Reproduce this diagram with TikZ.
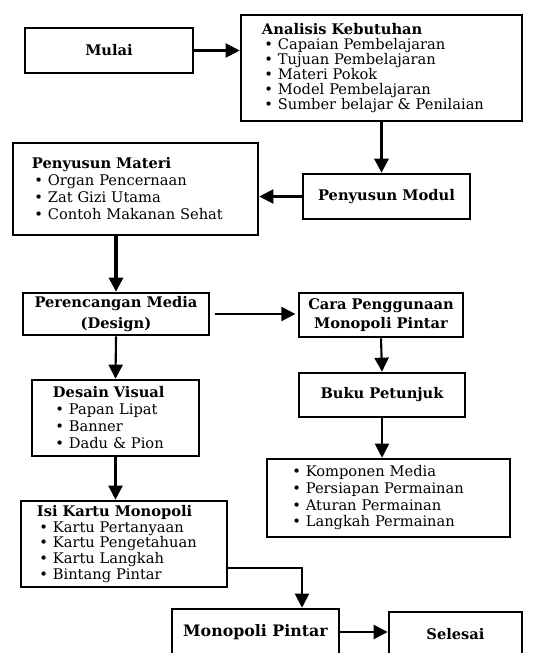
\documentclass[tikz,border=0pt]{standalone}
\usepackage{fontspec}
\setmainfont{DejaVu Serif}
\usetikzlibrary{arrows.meta}

\tikzset{
  kotak/.style={draw, line width=2.2pt, inner sep=0pt},
  judul/.style={kotak, font=\bfseries\fontsize{12.5}{15}\selectfont, align=center},
  daftar/.style={kotak, align=left, font=\fontsize{12.5}{#1}\selectfont},
  daftar/.default=12.8pt,
  panah/.style={-{Triangle[length=12pt,width=12pt]}, line width=1.8pt},
  panahtebal/.style={panah, line width=2.6pt},
}
\newcommand{\butir}{\hspace{2pt}\textbullet\ }

\begin{document}
\begin{tikzpicture}[x=0.03cm, y=-0.03cm, font=\fontsize{12.5}{12.8}\selectfont]
  \useasboundingbox (0,0) rectangle (558,653);

  % Start and needs analysis
  \node[judul, minimum width=5.04cm, minimum height=1.35cm] (mulai) at (109,50.5) {Mulai};
  \node[daftar, minimum width=8.43cm, minimum height=3.18cm, text width=7.17cm] (analisis) at (381.5,68)
    {\textbf{Analisis Kebutuhan}\\
     \butir Capaian Pembelajaran\\
     \butir Tujuan Pembelajaran\\
     \butir Materi Pokok\\
     \butir Model Pembelajaran\\
     \butir Sumber belajar \& Penilaian};

  % Module and material
  \node[judul, minimum width=5.01cm, minimum height=1.35cm] (modul) at (386.5,196.5) {Penyusun Modul};
  \node[daftar=14.5pt, minimum width=7.35cm, minimum height=2.76cm, text width=6.21cm] (materi) at (135.5,189)
    {\textbf{Penyusun Materi}\\
     \butir Organ Pencernaan\\
     \butir Zat Gizi Utama\\
     \butir Contoh Makanan Sehat};

  % Media design
  \node[judul, minimum width=5.58cm, minimum height=1.26cm] (rancang) at (116,314) {Perencangan Media\\[3pt](Design)};
  \node[judul, minimum width=4.92cm, minimum height=1.32cm] (cara) at (381,315) {Cara Penggunaan\\[1pt]Monopoli Pintar};
  \node[daftar=14.5pt, minimum width=5.01cm, minimum height=2.28cm, text width=3.75cm] (desain) at (115.5,418)
    {\textbf{Desain Visual}\\
     \butir Papan Lipat\\
     \butir Banner\\
     \butir Dadu \& Pion};
  \node[judul, minimum width=4.98cm, minimum height=1.32cm] (buku) at (382,395) {Buku Petunjuk};
  \node[daftar=14.2pt, minimum width=7.29cm, minimum height=2.34cm, text width=5.91cm] (komponen) at (388.5,498)
    {\butir Komponen Media\\
     \butir Persiapan Permainan\\
     \butir Aturan Permainan\\
     \butir Langkah Permainan};
  \node[daftar=13.4pt, minimum width=6.18cm, minimum height=2.58cm, text width=5.22cm] (isi) at (124,544)
    {\textbf{Isi Kartu Monopoli}\\
     \butir Kartu Pertanyaan\\
     \butir Kartu Pengetahuan\\
     \butir Kartu Langkah\\
     \butir Bintang Pintar};

  % Product and finish
  \node[judul, minimum width=5.01cm, minimum height=1.38cm, font=\bfseries\fontsize{13.5}{15}\selectfont] (monopoli) at (255.5,632) {Monopoli Pintar};
  \node[judul, minimum width=3.99cm, minimum height=1.32cm] (selesai) at (455.5,634) {Selesai};
  \coordinate (belok) at (302,568);

  % Arrows
  \draw[panah] (mulai.east) -- (analisis.west |- mulai.east);
  \draw[panahtebal] (analisis.south) -- (analisis.south |- modul.north);
  \draw[panah] (modul.west) -- (materi.east |- modul.west);
  \draw[panahtebal] (rancang.north |- materi.south) -- (rancang.north);
  \draw[panah, shorten <=4pt, shorten >=2pt] (rancang.east) -- (cara.west |- rancang.east);
  \draw[panah] (rancang.south) -- (desain.north);
  \draw[panah] (cara.south) -- (buku.north);
  \draw[panah] (buku.south) -- (buku.south |- komponen.north);
  \draw[panah] (desain.south) -- (desain.south |- isi.north);
  \draw[panah] (isi.east |- belok) -- (belok) -- (belok |- monopoli.north);
  \draw[panah] (monopoli.east) -- (selesai.west |- monopoli.east);
\end{tikzpicture}
\end{document}
